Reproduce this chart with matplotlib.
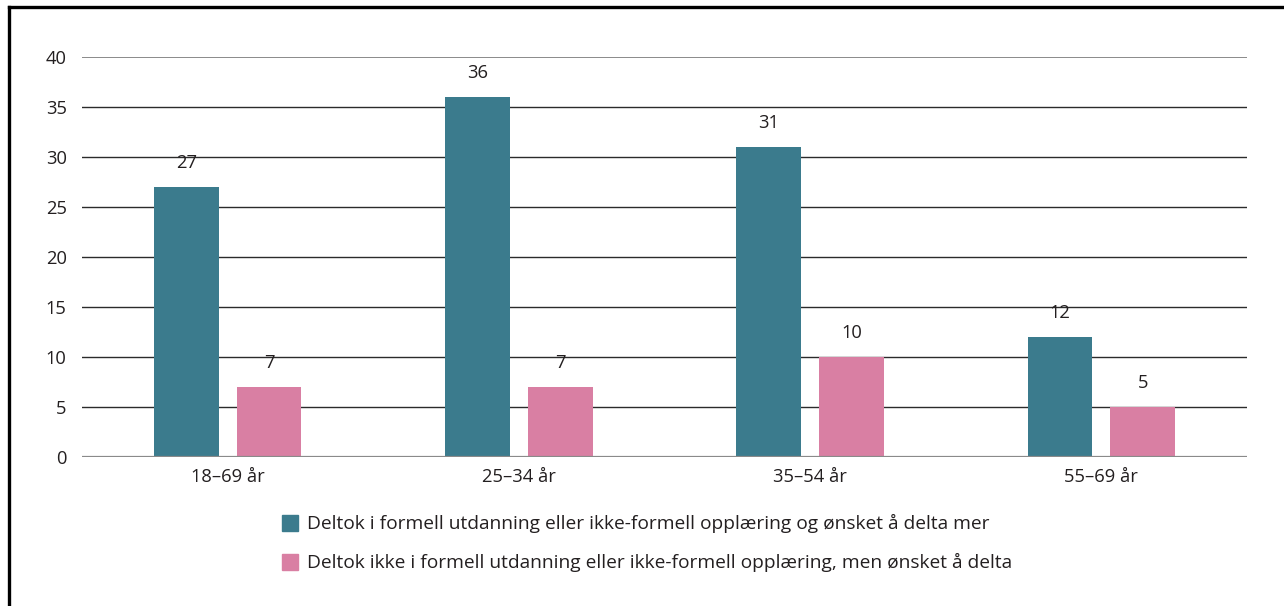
import matplotlib
matplotlib.use("Agg")
import matplotlib.pyplot as plt
from matplotlib.patches import Rectangle
import numpy as np

categories = ["18–69 år", "25–34 år", "35–54 år", "55–69 år"]
deltok = [27, 36, 31, 12]
deltok_ikke = [7, 7, 10, 5]
series_labels = [
    "Deltok i formell utdanning eller ikke-formell opplæring og ønsket å delta mer",
    "Deltok ikke i formell utdanning eller ikke-formell opplæring, men ønsket å delta",
]
yticks = [0, 5, 10, 15, 20, 25, 30, 35, 40]

teal = "#3b7b8d"
pink = "#d97fa3"
text_color = "#231f20"
fs = 13.2

plt.rcParams["font.family"] = ["Open Sans", "DejaVu Sans"]
plt.rcParams["font.size"] = fs

fig = plt.figure(figsize=(12.84, 6.06), dpi=100)
ax = fig.add_axes([82 / 1284, 1 - 457 / 606, 1165 / 1284, 400 / 606])

x = np.arange(len(categories))
w = 0.223
off = 0.142
b1 = ax.bar(x - off, deltok, w, color=teal, zorder=3)
b2 = ax.bar(x + off, deltok_ikke, w, color=pink, zorder=3)

for bars, vals in ((b1, deltok), (b2, deltok_ikke)):
    for rect, v in zip(bars, vals):
        ax.annotate(f"{v}", (rect.get_x() + rect.get_width() / 2, v),
                    xytext=(0, 11), textcoords="offset points",
                    ha="center", va="bottom", color=text_color, fontsize=fs)

ax.set_xlim(-0.5, len(categories) - 0.5)
ax.set_ylim(0, 40)
ax.set_yticks(yticks)
ax.set_xticks(x)
ax.set_xticklabels(categories)
ax.tick_params(axis="both", length=0, colors=text_color, labelsize=fs)
ax.tick_params(axis="y", pad=11)
ax.tick_params(axis="x", pad=8)

for y in yticks[1:-1]:
    ax.axhline(y, color="#2b2b2b", lw=1.0, zorder=1)
ax.axhline(40, color="#8a8a8a", lw=1.4, zorder=1)
ax.axhline(0, color="#8a8a8a", lw=1.6, zorder=4)

for s in ax.spines.values():
    s.set_visible(False)

# legend
for i, (lab, col) in enumerate(zip(series_labels, (teal, pink))):
    yc = 1 - (523 + i * 39) / 606
    fig.patches.append(Rectangle((282 / 1284, yc - 8 / 606), 16 / 1284, 16 / 606,
                                 transform=fig.transFigure, color=col, figure=fig))
    fig.text(307 / 1284, yc, lab, ha="left", va="center", color=text_color, fontsize=13.8)

# outer frame (open to the right and bottom)
fig.add_artist(plt.Line2D([9 / 1284, 9 / 1284], [0, 1 - 7 / 606],
                          transform=fig.transFigure, color="black", lw=2.4))
fig.add_artist(plt.Line2D([9 / 1284, 1], [1 - 7 / 606, 1 - 7 / 606],
                          transform=fig.transFigure, color="black", lw=2.4))

fig.savefig("out.png", dpi=100)
